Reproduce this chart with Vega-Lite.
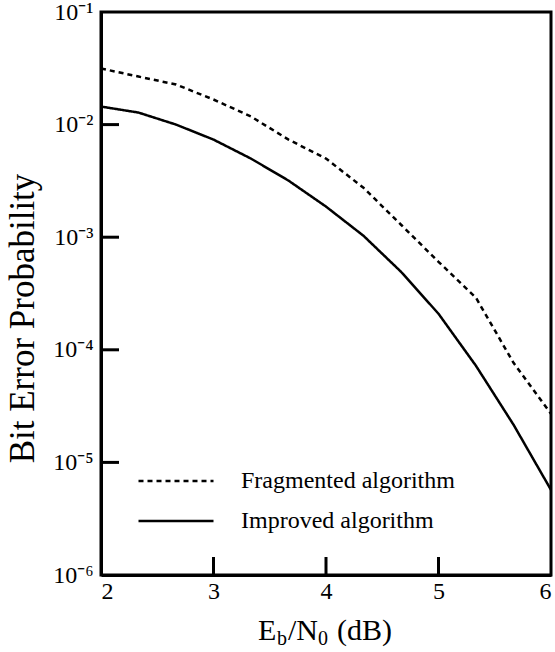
{
  "$schema": "https://vega.github.io/schema/vega-lite/v6.json",
  "width": 450,
  "height": 563,
  "autosize": "none",
  "padding": {"left": 101, "top": 12, "right": 4, "bottom": 77},
  "background": "white",
  "config": {
    "view": {"stroke": "black", "strokeWidth": 3},
    "font": "Liberation Serif",
    "axis": {
      "grid": false,
      "domainColor": "black",
      "domainWidth": 3,
      "ticks": false,
      "tickSize": 0,
      "labelColor": "black",
      "titleColor": "black",
      "labelFont": "Liberation Serif",
      "titleFont": "Liberation Serif",
      "labelFontSize": 24,
      "titleFontWeight": "normal"
    },
    "legend": {
      "labelFont": "Liberation Serif",
      "labelFontSize": 24,
      "labelColor": "black",
      "labelLimit": 400
    }
  },
  "datasets": {
    "curves": [
      {"series": "Fragmented algorithm", "snr": 2.0, "ber": 0.0315},
      {"series": "Fragmented algorithm", "snr": 2.333, "ber": 0.0267},
      {"series": "Fragmented algorithm", "snr": 2.667, "ber": 0.0227},
      {"series": "Fragmented algorithm", "snr": 3.0, "ber": 0.0167},
      {"series": "Fragmented algorithm", "snr": 3.333, "ber": 0.0118},
      {"series": "Fragmented algorithm", "snr": 3.667, "ber": 0.00736},
      {"series": "Fragmented algorithm", "snr": 4.0, "ber": 0.00499},
      {"series": "Fragmented algorithm", "snr": 4.333, "ber": 0.00275},
      {"series": "Fragmented algorithm", "snr": 4.667, "ber": 0.00129},
      {"series": "Fragmented algorithm", "snr": 5.0, "ber": 0.000605},
      {"series": "Fragmented algorithm", "snr": 5.333, "ber": 0.00029},
      {"series": "Fragmented algorithm", "snr": 5.667, "ber": 0.0000766},
      {"series": "Fragmented algorithm", "snr": 6.0, "ber": 0.000027},
      {"series": "Improved algorithm", "snr": 2.0, "ber": 0.01446},
      {"series": "Improved algorithm", "snr": 2.333, "ber": 0.01279},
      {"series": "Improved algorithm", "snr": 2.667, "ber": 0.0100},
      {"series": "Improved algorithm", "snr": 3.0, "ber": 0.00736},
      {"series": "Improved algorithm", "snr": 3.333, "ber": 0.00499},
      {"series": "Improved algorithm", "snr": 3.667, "ber": 0.00318},
      {"series": "Improved algorithm", "snr": 4.0, "ber": 0.00187},
      {"series": "Improved algorithm", "snr": 4.333, "ber": 0.00103},
      {"series": "Improved algorithm", "snr": 4.667, "ber": 0.000493},
      {"series": "Improved algorithm", "snr": 5.0, "ber": 0.000209},
      {"series": "Improved algorithm", "snr": 5.333, "ber": 0.0000721},
      {"series": "Improved algorithm", "snr": 5.667, "ber": 0.0000216},
      {"series": "Improved algorithm", "snr": 6.0, "ber": 0.0000057}
    ],
    "xticks": [{"v": 3}, {"v": 4}, {"v": 5}],
    "yticks": [{"v": 0.01}, {"v": 0.001}, {"v": 0.0001}, {"v": 0.00001}],
    "one": [{}]
  },
  "layer": [
    {
      "data": {"name": "curves"},
      "mark": {"type": "line", "strokeWidth": 2.5, "color": "black", "clip": true},
      "encoding": {
        "x": {
          "field": "snr",
          "type": "quantitative",
          "scale": {"domain": [2, 6], "nice": false, "zero": false},
          "axis": {"values": [2, 3, 4, 5, 6], "title": null, "labelPadding": 4, "format": "d"}
        },
        "y": {
          "field": "ber",
          "type": "quantitative",
          "scale": {"type": "log", "domain": [0.000001, 0.1], "nice": false},
          "axis": {
            "values": [0.1, 0.01, 0.001, 0.0001, 0.00001, 0.000001],
            "labelExpr": "'10⁻' + ['⁰','¹','²','³','⁴','⁵','⁶'][-round(log(datum.value)/LN10)]",
            "labelPadding": 8,
            "title": "Bit Error Probability",
            "titleFontSize": 35,
            "titlePadding": 12,
            "titleY": 306
          }
        },
        "strokeDash": {
          "field": "series",
          "type": "nominal",
          "scale": {"domain": ["Fragmented algorithm", "Improved algorithm"], "range": [[5, 4], [1, 0]]},
          "legend": {
            "title": null,
            "orient": "none",
            "legendX": 36,
            "legendY": 458,
            "padding": 0,
            "symbolType": "stroke",
            "symbolSize": 5625,
            "symbolStrokeWidth": 2.5,
            "symbolStrokeColor": "black",
            "clipHeight": 22,
            "rowPadding": 16,
            "labelOffset": 26
          }
        }
      }
    },
    {
      "data": {"name": "xticks"},
      "mark": {"type": "rule", "strokeWidth": 3, "color": "black"},
      "encoding": {
        "x": {"field": "v", "type": "quantitative"},
        "y": {"datum": 0.000001, "type": "quantitative"},
        "y2": {"datum": 0.000001445}
      }
    },
    {
      "data": {"name": "yticks"},
      "mark": {"type": "rule", "strokeWidth": 3, "color": "black"},
      "encoding": {
        "y": {"field": "v", "type": "quantitative"},
        "x": {"datum": 2, "type": "quantitative"},
        "x2": {"datum": 2.16}
      }
    },
    {
      "data": {"name": "one"},
      "mark": {"type": "text", "text": "E", "align": "left", "baseline": "alphabetic", "dx": -68, "dy": 65, "fontSize": 30, "color": "black", "font": "Liberation Serif"},
      "encoding": {"x": {"datum": 4, "type": "quantitative"}, "y": {"datum": 0.000001, "type": "quantitative"}}
    },
    {
      "data": {"name": "one"},
      "mark": {"type": "text", "text": "b", "align": "left", "baseline": "alphabetic", "dx": -49, "dy": 70, "fontSize": 20, "color": "black", "font": "Liberation Serif"},
      "encoding": {"x": {"datum": 4, "type": "quantitative"}, "y": {"datum": 0.000001, "type": "quantitative"}}
    },
    {
      "data": {"name": "one"},
      "mark": {"type": "text", "text": "/N", "align": "left", "baseline": "alphabetic", "dx": -38, "dy": 65, "fontSize": 30, "color": "black", "font": "Liberation Serif"},
      "encoding": {"x": {"datum": 4, "type": "quantitative"}, "y": {"datum": 0.000001, "type": "quantitative"}}
    },
    {
      "data": {"name": "one"},
      "mark": {"type": "text", "text": "0", "align": "left", "baseline": "alphabetic", "dx": -8, "dy": 70, "fontSize": 20, "color": "black", "font": "Liberation Serif"},
      "encoding": {"x": {"datum": 4, "type": "quantitative"}, "y": {"datum": 0.000001, "type": "quantitative"}}
    },
    {
      "data": {"name": "one"},
      "mark": {"type": "text", "text": "(dB)", "align": "left", "baseline": "alphabetic", "dx": 11, "dy": 65, "fontSize": 30, "color": "black", "font": "Liberation Serif"},
      "encoding": {"x": {"datum": 4, "type": "quantitative"}, "y": {"datum": 0.000001, "type": "quantitative"}}
    }
  ]
}
